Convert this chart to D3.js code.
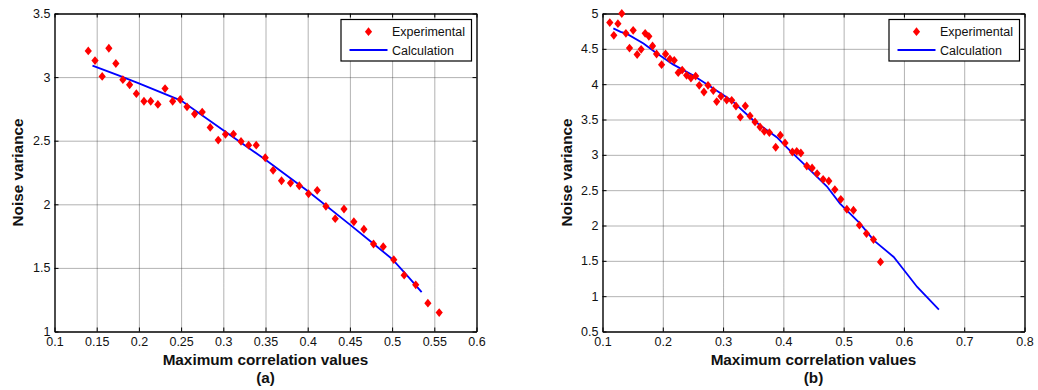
<!DOCTYPE html>
<html>
<head>
<meta charset="utf-8">
<script src="https://cdn.jsdelivr.net/npm/d3@7"></script>
<style>
  html, body { margin: 0; padding: 0; background: #fff; }
  svg { display: block; font-family: "Liberation Sans", Arial, Helvetica, sans-serif; }
</style>
</head>
<body>
<svg id="chart" width="1038" height="390"></svg>
<script>
// Panel (a) measurements
const expAx = [0.140, 0.148, 0.1565, 0.1644, 0.1727, 0.181, 0.189, 0.197, 0.206, 0.214, 0.2225,
  0.231, 0.240, 0.249, 0.257, 0.266, 0.275, 0.2845, 0.294, 0.3026, 0.312, 0.321, 0.330, 0.339,
  0.3497, 0.359, 0.369, 0.3796, 0.390, 0.401, 0.4113, 0.4216, 0.4326, 0.443, 0.4547, 0.4666,
  0.478, 0.4895, 0.502, 0.5143, 0.528, 0.5424, 0.5558];
const expAy = [3.206, 3.13, 3.005, 3.227, 3.107, 2.98, 2.94, 2.87, 2.81, 2.81, 2.785,
  2.91, 2.81, 2.824, 2.766, 2.71, 2.725, 2.604, 2.505, 2.55, 2.552, 2.494, 2.465, 2.465,
  2.366, 2.267, 2.185, 2.167, 2.146, 2.083, 2.11, 1.984, 1.887, 1.963, 1.863, 1.804,
  1.688, 1.667, 1.565, 1.443, 1.367, 1.223, 1.149];
const calcAx = [0.145, 0.175, 0.2, 0.25, 0.3, 0.35, 0.4, 0.45, 0.475, 0.5, 0.52, 0.535];
const calcAy = [3.09, 3.015, 2.95, 2.815, 2.583, 2.35, 2.104, 1.84, 1.706, 1.57, 1.424, 1.31];

// Panel (b) measurements
const expBx = [0.1121, 0.1188, 0.1256, 0.132, 0.1388, 0.1448, 0.1509, 0.1575, 0.1641, 0.1708,
  0.1769, 0.183, 0.1897, 0.198, 0.2046, 0.2118, 0.219, 0.2256, 0.2322, 0.2395, 0.2467, 0.2545,
  0.2605, 0.2683, 0.275, 0.2838, 0.2894, 0.2965, 0.306, 0.3143, 0.3214, 0.3286, 0.3369, 0.3447,
  0.353, 0.3613, 0.3684, 0.3768, 0.3873, 0.395, 0.4028, 0.415, 0.4222, 0.429, 0.4389, 0.4477,
  0.456, 0.466, 0.4754, 0.4854, 0.4953, 0.5053, 0.5163, 0.5262, 0.5379, 0.5495, 0.5611];
const expBy = [4.871, 4.691, 4.856, 5.0, 4.72, 4.511, 4.762, 4.42, 4.493, 4.72,
  4.677, 4.54, 4.427, 4.276, 4.427, 4.356, 4.337, 4.163, 4.2, 4.125, 4.087, 4.115,
  3.984, 3.889, 3.984, 3.909, 3.753, 3.828, 3.776, 3.772, 3.691, 3.535, 3.691, 3.55,
  3.465, 3.394, 3.333, 3.315, 3.107, 3.277, 3.168, 3.04, 3.05, 3.026, 2.842, 2.814,
  2.735, 2.654, 2.63, 2.508, 2.371, 2.23, 2.216, 2.004, 1.886, 1.801, 1.484];
const calcBx = [0.118, 0.13, 0.14, 0.168, 0.187, 0.217, 0.25, 0.284, 0.314, 0.35, 0.389, 0.411,
  0.439, 0.472, 0.494, 0.527, 0.55, 0.583, 0.6, 0.622, 0.658];
const calcBy = [4.79, 4.74, 4.715, 4.575, 4.455, 4.28, 4.125, 3.94, 3.77, 3.49, 3.25, 3.06,
  2.83, 2.555, 2.31, 2.03, 1.79, 1.555, 1.37, 1.13, 0.81];

// Axis ticks and labels
const xTicksA = [0.1, 0.15, 0.2, 0.25, 0.3, 0.35, 0.4, 0.45, 0.5, 0.55, 0.6];
const xTickLabelsA = ["0.1", "0.15", "0.2", "0.25", "0.3", "0.35", "0.4", "0.45", "0.5", "0.55", "0.6"];
const yTicksA = [1, 1.5, 2, 2.5, 3, 3.5];
const yTickLabelsA = ["1", "1.5", "2", "2.5", "3", "3.5"];
const xTicksB = [0.1, 0.2, 0.3, 0.4, 0.5, 0.6, 0.7, 0.8];
const xTickLabelsB = ["0.1", "0.2", "0.3", "0.4", "0.5", "0.6", "0.7", "0.8"];
const yTicksB = [0.5, 1, 1.5, 2, 2.5, 3, 3.5, 4, 4.5, 5];
const yTickLabelsB = ["0.5", "1", "1.5", "2", "2.5", "3", "3.5", "4", "4.5", "5"];

const xTitle = "Maximum correlation values";
const yTitle = "Noise variance";
const seriesNames = ["Experimental", "Calculation"];

const svg = d3.select("#chart");

function drawPanel(cfg) {
  const x = d3.scaleLinear().domain(cfg.xDomain).range([cfg.left, cfg.right]);
  const y = d3.scaleLinear().domain(cfg.yDomain).range([cfg.bottom, cfg.top]);
  const g = svg.append("g");
  const w = cfg.right - cfg.left, h = cfg.bottom - cfg.top;

  // grid
  const grid = g.append("g").attr("class", "grid");
  grid.append("g").attr("transform", `translate(0,${cfg.bottom})`)
    .call(d3.axisBottom(x).tickValues(cfg.xTicks.slice(1, -1)).tickSize(-h).tickFormat(""));
  grid.append("g").attr("transform", `translate(${cfg.left},0)`)
    .call(d3.axisLeft(y).tickValues(cfg.yTicks.slice(1, -1)).tickSize(-w).tickFormat(""));
  grid.selectAll(".domain").remove();
  grid.selectAll("line").attr("stroke", "#333").attr("stroke-width", 1)
    .attr("stroke-dasharray", "1,1").attr("opacity", 0.75);

  // axes with inward ticks
  const fmtX = (d, i) => cfg.xLabels[i];
  const fmtY = (d, i) => cfg.yLabels[i];
  const axB = g.append("g").attr("transform", `translate(0,${cfg.bottom})`)
    .call(d3.axisBottom(x).tickValues(cfg.xTicks).tickSizeInner(-4).tickSizeOuter(0).tickPadding(6).tickFormat(fmtX));
  const axT = g.append("g").attr("transform", `translate(0,${cfg.top})`)
    .call(d3.axisTop(x).tickValues(cfg.xTicks).tickSizeInner(-4).tickSizeOuter(0).tickFormat(""));
  const axL = g.append("g").attr("transform", `translate(${cfg.left},0)`)
    .call(d3.axisLeft(y).tickValues(cfg.yTicks).tickSizeInner(-4).tickSizeOuter(0).tickPadding(4).tickFormat(fmtY));
  const axR = g.append("g").attr("transform", `translate(${cfg.right},0)`)
    .call(d3.axisRight(y).tickValues(cfg.yTicks).tickSizeInner(-4).tickSizeOuter(0).tickFormat(""));
  [axB, axT, axL, axR].forEach(a => {
    a.selectAll(".domain").attr("stroke", "#000").attr("stroke-width", 1.4);
    a.selectAll(".tick line").attr("stroke", "#000").attr("stroke-width", 1);
    a.selectAll("text").attr("font-size", 12.5).attr("fill", "#111")
      .attr("font-family", "'Liberation Sans', Arial, sans-serif");
  });

  // calculation curve
  const calc = cfg.calcX.map((v, i) => [v, cfg.calcY[i]]);
  g.append("path").datum(calc)
    .attr("fill", "none").attr("stroke", "#0000ff").attr("stroke-width", 1.8)
    .attr("d", d3.line().x(d => x(d[0])).y(d => y(d[1])));

  // experimental diamonds
  const diamond = "M0,-4.4L3.6,0L0,4.4L-3.6,0Z";
  const pts = cfg.expX.map((v, i) => [v, cfg.expY[i]]);
  g.append("g").selectAll("path").data(pts).join("path")
    .attr("d", diamond).attr("fill", "#ff0000")
    .attr("transform", d => `translate(${x(d[0])},${y(d[1])})`);

  // legend
  const lx = cfg.right - 135.5, ly = cfg.top + 6;
  const leg = g.append("g").attr("transform", `translate(${lx},${ly})`);
  leg.append("rect").attr("x", 0).attr("y", 0).attr("width", 130.5).attr("height", 41.5)
    .attr("fill", "#fff").attr("stroke", "#000").attr("stroke-width", 1.2);
  leg.append("path").attr("d", diamond).attr("fill", "#ff0000")
    .attr("transform", "translate(27.5,12.2)");
  leg.append("line").attr("x1", 8.5).attr("x2", 46.5).attr("y1", 30.5).attr("y2", 30.5)
    .attr("stroke", "#0000ff").attr("stroke-width", 1.8);
  leg.selectAll("text.lab").data(seriesNames).join("text")
    .attr("x", 51).attr("y", (d, i) => 16.2 + i * 19.7)
    .attr("font-size", 12.5).attr("fill", "#111").text(d => d);

  // titles
  const cx = (cfg.left + cfg.right) / 2;
  g.append("text").attr("x", cx).attr("y", 365).attr("text-anchor", "middle")
    .attr("font-size", 15.3).attr("font-weight", "bold").attr("fill", "#111").text(xTitle);
  g.append("text").attr("x", cx).attr("y", 383).attr("text-anchor", "middle")
    .attr("font-size", 15.3).attr("font-weight", "bold").attr("fill", "#111").text(cfg.tag);
  g.append("text")
    .attr("transform", `translate(${cfg.yTitleX},${(cfg.top + cfg.bottom) / 2}) rotate(-90)`)
    .attr("text-anchor", "middle").attr("font-size", 15.3).attr("font-weight", "bold")
    .attr("fill", "#111").text(yTitle);
}

drawPanel({
  left: 54.5, right: 476.5, top: 13.5, bottom: 331.5,
  xDomain: [0.1, 0.6], yDomain: [1, 3.5],
  xTicks: xTicksA, xLabels: xTickLabelsA, yTicks: yTicksA, yLabels: yTickLabelsA,
  expX: expAx, expY: expAy, calcX: calcAx, calcY: calcAy,
  tag: "(a)", yTitleX: 23.3
});

drawPanel({
  left: 602.5, right: 1024.5, top: 13.5, bottom: 331.5,
  xDomain: [0.1, 0.8], yDomain: [0.5, 5],
  xTicks: xTicksB, xLabels: xTickLabelsB, yTicks: yTicksB, yLabels: yTickLabelsB,
  expX: expBx, expY: expBy, calcX: calcBx, calcY: calcBy,
  tag: "(b)", yTitleX: 571.7
});
</script>
</body>
</html>
